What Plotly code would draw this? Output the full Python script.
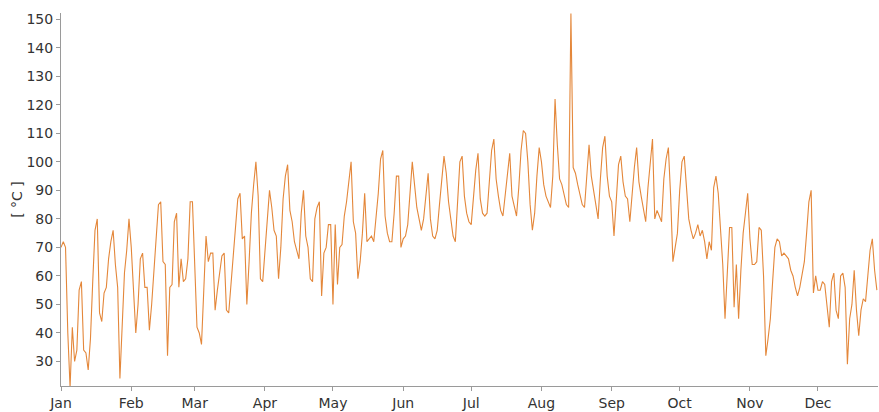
import pandas as pd
import plotly.graph_objects as go

jan = [70, 72, 70, 40, 21, 42, 30, 34, 55, 58, 34, 33, 27, 38, 58, 76, 80, 47, 44, 54, 56, 66, 72, 76, 64, 56, 24, 44, 61, 69, 80]
feb = [70, 57, 40, 50, 66, 68, 56, 56, 41, 50, 62, 75, 85, 86, 65, 64, 32, 56, 57, 79, 82, 56, 66, 58, 59, 66, 86, 86]
mar = [62, 42, 40, 36, 55, 74, 65, 68, 68, 48, 55, 62, 67, 68, 48, 47, 57, 70, 78, 87, 89, 73, 74, 50, 65, 82, 92, 100, 88, 59, 58]
apr = [70, 80, 90, 84, 76, 74, 59, 70, 87, 95, 99, 83, 79, 72, 69, 66, 82, 90, 74, 70, 59, 58, 80, 84, 86, 53, 68, 70, 78, 78]
may = [50, 78, 57, 70, 71, 81, 86, 93, 100, 79, 75, 59, 65, 75, 89, 72, 73, 74, 72, 81, 89, 101, 104, 81, 75, 72, 72, 82, 95, 95, 70]
jun = [73, 74, 78, 90, 100, 92, 84, 80, 76, 80, 88, 96, 80, 74, 73, 76, 85, 94, 102, 96, 86, 80, 74, 72, 87, 100, 102, 88, 82, 79]
jul = [78, 89, 97, 103, 87, 82, 81, 82, 94, 104, 108, 94, 88, 83, 81, 89, 97, 103, 88, 84, 81, 91, 104, 111, 110, 100, 85, 76, 82, 95, 105]
aug = [100, 92, 88, 86, 84, 95, 122, 106, 94, 92, 88, 85, 84, 152, 98, 96, 92, 89, 85, 84, 96, 106, 95, 90, 86, 80, 94, 105, 109, 95, 88]
sep = [86, 74, 88, 99, 102, 93, 88, 87, 79, 90, 98, 105, 93, 88, 84, 79, 91, 100, 108, 80, 83, 81, 79, 94, 101, 105, 88, 65, 70, 75]
oct_ = [90, 100, 102, 89, 80, 76, 73, 75, 78, 74, 76, 72, 66, 72, 69, 91, 95, 89, 77, 64, 45, 62, 77, 77, 49, 64, 45, 62, 75, 82, 89]
nov = [73, 64, 64, 65, 77, 76, 60, 32, 38, 45, 58, 70, 73, 72, 67, 68, 67, 66, 62, 60, 56, 53, 56, 60, 65, 75, 86, 90, 54, 60]
dec = [55, 55, 58, 57, 48, 42, 58, 61, 48, 45, 60, 61, 56, 29, 45, 50, 62, 48, 39, 48, 52, 51, 60, 69, 73, 62, 55]

month_labels = ["Jan", "Feb", "Mar", "Apr", "May", "Jun", "Jul", "Aug", "Sep", "Oct", "Nov", "Dec"]
y_ticks = [30, 40, 50, 60, 70, 80, 90, 100, 110, 120, 130, 140, 150]

values = jan + feb + mar + apr + may + jun + jul + aug + sep + oct_ + nov + dec
dates = pd.date_range("2021-01-01", periods=len(values), freq="D")
month_starts = pd.date_range("2021-01-01", periods=12, freq="MS")

fig = go.Figure(go.Scatter(
    x=dates, y=values, mode="lines",
    line=dict(color="#E4873A", width=1.1),
    hoverinfo="skip",
))

axis_font = dict(family="DejaVu Sans", size=14, color="#333333")

fig.update_layout(
    width=879, height=412,
    margin=dict(l=61, r=1, t=13, b=26, autoexpand=False),
    paper_bgcolor="white", plot_bgcolor="white",
    showlegend=False,
    font=axis_font,
)
fig.update_xaxes(
    type="date",
    range=[dates[0], dates[-1] + pd.Timedelta(hours=12)],
    tickvals=month_starts, ticktext=month_labels,
    showgrid=False, zeroline=False,
    showline=True, linecolor="#9a9a9a", linewidth=1,
    ticks="outside", ticklen=4, tickcolor="#9a9a9a",
    tickfont=axis_font, automargin=False,
)
fig.update_yaxes(
    range=[21.4, 152.2],
    tickvals=y_ticks,
    showgrid=False, zeroline=False,
    showline=True, linecolor="#9a9a9a", linewidth=1,
    ticks="outside", ticklen=4, tickcolor="#9a9a9a",
    tickfont=axis_font, automargin=False,
    title=dict(text="[ °C ]", font=axis_font, standoff=0),
)

fig.write_html(
    "out.html",
    config={"displayModeBar": False},
    post_script="document.body.style.margin='0';document.body.style.overflow='hidden';",
)
